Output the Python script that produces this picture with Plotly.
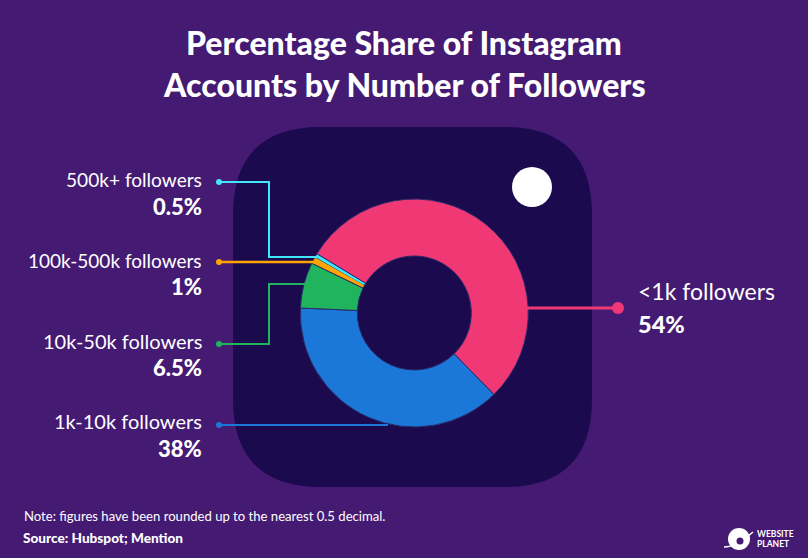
import plotly.graph_objects as go

W, H = 808, 558
categories = ["<1k followers", "1k-10k followers", "10k-50k followers", "100k-500k followers", "500k+ followers"]
values = [54, 38, 6.5, 1, 0.5]
value_labels = ["54%", "38%", "6.5%", "1%", "0.5%"]
colors = ["#F03875", "#1B78D8", "#1FB45D", "#FFA400", "#41E6FF"]
BG, DARK = "#441A73", "#1B0A4E"
FONT = "Lato"

def px(x): return x / W
def py(y): return 1 - y / H

cx, cy, R = 414.3, 313, 114
fig = go.Figure(go.Pie(
    labels=categories, values=values, sort=False, direction="clockwise", rotation=301.3,
    hole=0.5, textinfo="none", hoverinfo="label+percent",
    marker=dict(colors=colors, line=dict(color="#2A2A6A", width=1)),
    domain=dict(x=[px(cx - R), px(cx + R)], y=[py(cy + R), py(cy - R)]),
    showlegend=False,
))

shapes = []
def rrect(x0, y0, x1, y1, r):
    return (f"M{x0+r},{y0} L{x1-r},{y0} Q{x1},{y0} {x1},{y0+r} L{x1},{y1-r} Q{x1},{y1} {x1-r},{y1} "
            f"L{x0+r},{y1} Q{x0},{y1} {x0},{y1-r} L{x0},{y0+r} Q{x0},{y0} {x0+r},{y0} Z")
def poly(pts, color, w=2):
    shapes.append(dict(type="path", xref="x", yref="y", layer="above",
                       path="M" + " L".join(f"{a},{b}" for a, b in pts),
                       line=dict(color=color, width=w), fillcolor="rgba(0,0,0,0)"))
def dot(x, y, r, color, layer="above"):
    shapes.append(dict(type="circle", xref="x", yref="y", layer=layer, x0=x-r, x1=x+r, y0=y-r, y1=y+r,
                       fillcolor=color, line=dict(width=0)))

shapes.append(dict(type="path", xref="x", yref="y", layer="below", path=rrect(233, 127, 592, 487, 88),
                   fillcolor=DARK, line=dict(width=0)))
dot(532, 187, 20, "white", "below")

poly([(219, 182), (269, 182), (269, 257), (317, 257), (364, 284)], colors[4])
poly([(219, 262), (314, 262)], colors[3], 2.5)
poly([(219, 344), (269, 344), (269, 284), (306, 284)], colors[2])
poly([(219, 425), (388, 425)], colors[1])
poly([(527, 308), (618, 308)], colors[0], 3)
for (x, y, r, c) in [(219, 182, 3, 4), (219, 262, 3, 3), (219, 344, 3, 2), (219, 425, 3, 1), (618, 308, 6, 0)]:
    dot(x, y, r, colors[c])

# logo
dot(739, 539, 11, "white")
shapes.append(dict(type="path", xref="x", yref="y", layer="above",
                   path="M724,547 Q736,547 753,532", line=dict(color="white", width=1.5), fillcolor="rgba(0,0,0,0)"))
dot(740, 541, 3.5, BG)

ann = []
def text(x, y, s, size, anchor="left", weight=400, color="white"):
    ann.append(dict(xref="paper", yref="paper", x=px(x), y=py(y), xanchor=anchor, yanchor="middle",
                    text=s, showarrow=False,
                    font=dict(family=FONT, size=size, color=color, weight=weight), align=anchor))

text(404, 42.5, "Percentage Share of Instagram", 32, "center", 900)
text(404, 84.5, "Accounts by Number of Followers", 32, "center", 900)

left = {4: (180, 206, 19.1), 3: (260, 286, 19), 2: (341, 367, 20), 1: (421, 448, 20)}
for i, (y1, y2, size) in left.items():
    text(204, y1, categories[i], size, "right")
    text(204, y2, value_labels[i], 22, "right", 900)
text(636, 291, categories[0].replace("<", "&lt;"), 23)
text(636, 324, value_labels[0], 23.5, "left", 900)

text(22, 516, "Note: figures have been rounded up to the nearest 0.5 decimal.", 13.1)
text(21, 538, "Source: Hubspot; Mention", 13.6, "left", 900)
text(755, 534, "WEBSITE", 8.5, "left", 700)
text(755, 544, "PLANET", 8.5, "left", 700)

fig.update_layout(
    width=W, height=H, margin=dict(l=0, r=0, t=0, b=0), paper_bgcolor=BG, plot_bgcolor=BG,
    xaxis=dict(range=[0, W], visible=False, fixedrange=True),
    yaxis=dict(range=[H, 0], visible=False, fixedrange=True),
    shapes=shapes, annotations=ann,
)
fig.write_html("out.html", config=dict(displayModeBar=False),
               post_script=f"document.body.style.margin='0';document.body.style.background='{BG}';")
